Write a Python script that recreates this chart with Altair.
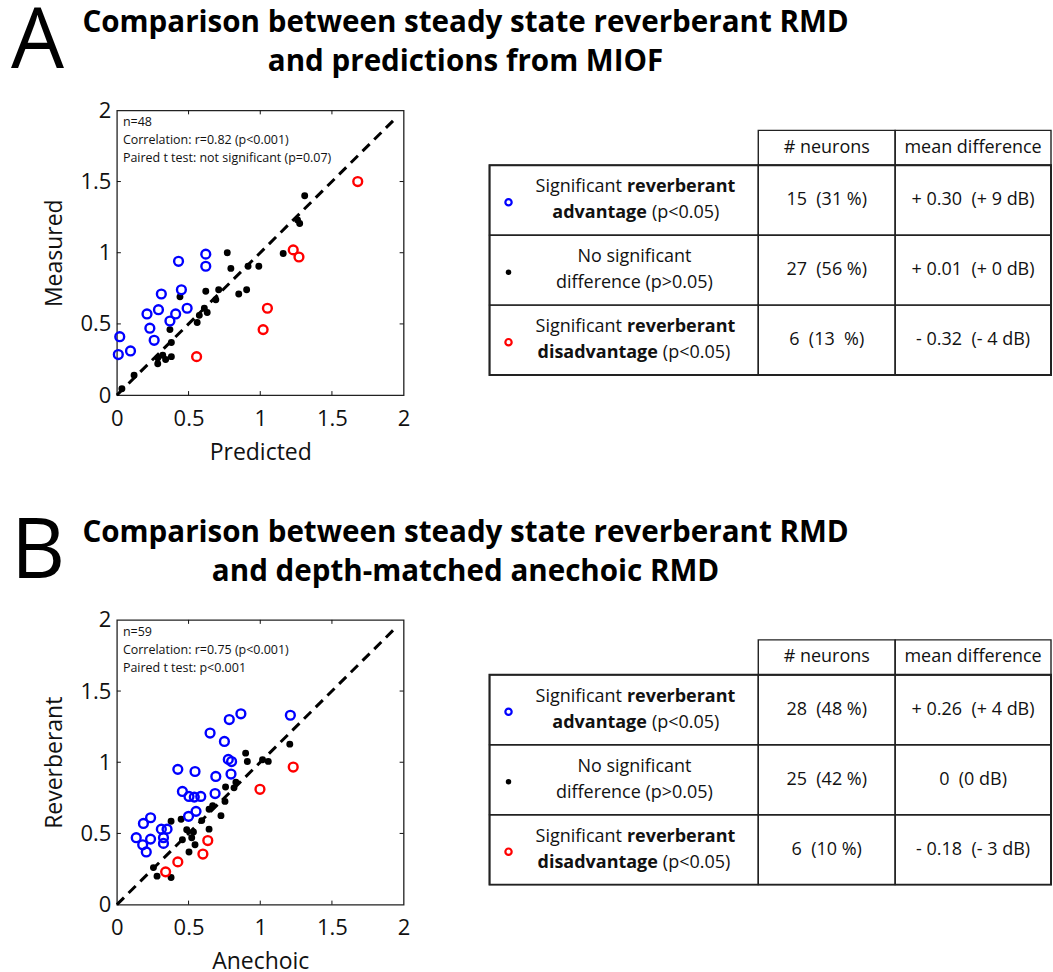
import altair as alt
import pandas as pd

FONT = "Open Sans"
INK = "#111111"
BLUE = "#0000ff"
RED = "#ff0000"

# ---------------- Panel A: steady-state reverberant RMD vs MIOF prediction ----------------
a_adv_x = [0.02, 0.01, 0.095, 0.21, 0.23, 0.26, 0.29, 0.31, 0.37, 0.41, 0.43, 0.45, 0.49, 0.62, 0.62]
a_adv_y = [0.41, 0.285, 0.31, 0.57, 0.47, 0.385, 0.60, 0.71, 0.52, 0.57, 0.94, 0.74, 0.61, 0.99, 0.905]
a_ns_x = [0.035, 0.12, 0.285, 0.32, 0.34, 0.38, 0.38, 0.37, 0.44, 0.56, 0.575, 0.61, 0.63, 0.62,
          0.69, 0.71, 0.77, 0.795, 0.85, 0.905, 0.915, 0.99, 1.16, 1.26, 1.275, 1.31, 0.285]
a_ns_y = [0.045, 0.14, 0.26, 0.28, 0.25, 0.27, 0.37, 0.46, 0.69, 0.51, 0.56, 0.61, 0.58, 0.73,
          0.67, 0.74, 1.0, 0.89, 0.71, 0.74, 0.905, 0.905, 0.995, 1.23, 1.205, 1.40, 0.22]
a_dis_x = [0.556, 1.02, 1.05, 1.23, 1.27, 1.68]
a_dis_y = [0.27, 0.46, 0.61, 1.02, 0.97, 1.50]

# ---------------- Panel B: steady-state reverberant RMD vs depth-matched anechoic RMD ----------------
b_adv_x = [0.135, 0.18, 0.205, 0.185, 0.235, 0.235, 0.31, 0.325, 0.325, 0.35, 0.425, 0.457, 0.50, 0.503,
           0.545, 0.552, 0.54, 0.585, 0.65, 0.685, 0.69, 0.75, 0.784, 0.777, 0.80, 0.796, 0.865, 1.21]
b_adv_y = [0.47, 0.42, 0.37, 0.57, 0.61, 0.46, 0.53, 0.47, 0.43, 0.53, 0.95, 0.795, 0.62, 0.76,
           0.935, 0.655, 0.755, 0.76, 1.205, 0.78, 0.90, 1.146, 1.30, 1.02, 1.005, 0.917, 1.34, 1.33]
b_ns_x = [0.255, 0.28, 0.378, 0.378, 0.448, 0.457, 0.487, 0.503, 0.522, 0.534, 0.545, 0.592, 0.643,
          0.643, 0.668, 0.726, 0.754, 0.758, 0.817, 0.83, 0.898, 0.91, 1.016, 1.056, 1.206]
b_ns_y = [0.26, 0.20, 0.19, 0.585, 0.60, 0.456, 0.526, 0.37, 0.47, 0.51, 0.42, 0.59, 0.53,
          0.67, 0.695, 0.625, 0.725, 0.826, 0.82, 0.86, 1.064, 1.005, 1.017, 1.006, 1.127]
b_dis_x = [0.34, 0.425, 0.60, 0.634, 0.998, 1.23]
b_dis_y = [0.23, 0.30, 0.355, 0.45, 0.81, 0.966]

# ---------------- text content ----------------
a_heading = "Comparison between steady state reverberant RMD\nand predictions from MIOF"
b_heading = "Comparison between steady state reverberant RMD\nand depth-matched anechoic RMD"
a_notes = "n=48\nCorrelation: r=0.82 (p<0.001)\nPaired t test: not significant (p=0.07)"
b_notes = "n=59\nCorrelation: r=0.75 (p<0.001)\nPaired t test: p<0.001"

table_header = ["# neurons", "mean difference"]
a_neurons = ["15\u00a0 (31 %)", "27\u00a0 (56 %)", "6\u00a0 (13\u00a0 %)"]
a_meandiff = ["+ 0.30\u00a0 (+ 9 dB)", "+ 0.01\u00a0 (+ 0 dB)", "- 0.32\u00a0 (- 4 dB)"]
b_neurons = ["28\u00a0 (48 %)", "25\u00a0 (42 %)", "6\u00a0 (10 %)"]
b_meandiff = ["+ 0.26\u00a0 (+ 4 dB)", "0\u00a0 (0 dB)", "- 0.18\u00a0 (- 3 dB)"]

# class descriptions: each line is a list of (text, weight) pieces
class_lines = [
    [[("Significant", "normal"), ("reverberant", "bold")],
     [("advantage", "bold"), ("(p<0.05)", "normal")]],
    [[("No significant", "normal")],
     [("difference (p>0.05)", "normal")]],
    [[("Significant", "normal"), ("reverberant", "bold")],
     [("disadvantage", "bold"), ("(p<0.05)", "normal")]],
]

# ---------------- layout ----------------
W, H = 287, 285                  # scatter plot area
PANEL_STEP = 510                 # vertical distance between the two panels
TICKS = [0.5, 1, 1.5]
DIAG = [0, 1.93]
TICK_LEN = 4

COL_W = [269, 137, 156]          # table columns
HEAD_H, ROW_H = 35, 70
TABLE_TOP = 20
TABLE_W = sum(COL_W)
LABEL_CX = 145                   # centre of the class description text
MARK_X = 19                      # legend symbol position inside the first column
LINE_DY = 13                     # half distance between the two lines of a description
SPLITS = [[135, 160], [None, None], [135, 171]]
GAP = 5


def scatter_panel(adv, ns, dis, x_title, y_title, notes, letter, heading):
    scale = alt.Scale(domain=[0, 2], nice=False, zero=False)
    x_axis = alt.Axis(values=[0, 0.5, 1, 1.5, 2], format="~g", ticks=False, domain=False, grid=False,
                      labelFont=FONT, labelFontSize=22, labelColor=INK, labelPadding=13,
                      labelFlush=False, labelOverlap=False,
                      title=x_title, titleFont=FONT, titleFontSize=23, titleFontWeight="normal",
                      titleColor=INK, titlePadding=12)
    y_axis = alt.Axis(values=[0, 0.5, 1, 1.5, 2], format="~g", ticks=False, domain=False, grid=False,
                      labelFont=FONT, labelFontSize=22, labelColor=INK, labelPadding=6,
                      labelFlush=False, labelOverlap=False,
                      title=y_title, titleFont=FONT, titleFontSize=23, titleFontWeight="normal",
                      titleColor=INK, titlePadding=14)

    def X():
        return alt.X("x:Q", scale=scale, axis=x_axis)

    def Y():
        return alt.Y("y:Q", scale=scale, axis=y_axis)

    diag = alt.Chart(pd.DataFrame({"x": DIAG, "y": DIAG})).mark_line(
        color="black", strokeWidth=3, strokeDash=[10, 6.5]).encode(x=X(), y=Y())
    dots = alt.Chart(pd.DataFrame({"x": ns[0], "y": ns[1]})).mark_circle(
        size=48, color="black", opacity=1).encode(x=X(), y=Y())
    adv_pts = alt.Chart(pd.DataFrame({"x": adv[0], "y": adv[1]})).mark_point(
        shape="circle", filled=False, size=78, strokeWidth=2.4, color=BLUE, opacity=1).encode(x=X(), y=Y())
    dis_pts = alt.Chart(pd.DataFrame({"x": dis[0], "y": dis[1]})).mark_point(
        shape="circle", filled=False, size=78, strokeWidth=2.4, color=RED, opacity=1).encode(x=X(), y=Y())

    tx = pd.DataFrame({"x": TICKS})
    ty = pd.DataFrame({"y": TICKS})
    rule = dict(color=INK, strokeWidth=1)
    t_bottom = alt.Chart(tx).mark_rule(**rule).encode(x=X(), y=alt.value(H), y2=alt.value(H - TICK_LEN))
    t_top = alt.Chart(tx).mark_rule(**rule).encode(x=X(), y=alt.value(0), y2=alt.value(TICK_LEN))
    t_left = alt.Chart(ty).mark_rule(**rule).encode(y=Y(), x=alt.value(0), x2=alt.value(TICK_LEN))
    t_right = alt.Chart(ty).mark_rule(**rule).encode(y=Y(), x=alt.value(W), x2=alt.value(W - TICK_LEN))

    note = alt.Chart(pd.DataFrame({"t": [notes]})).mark_text(
        align="left", baseline="top", font=FONT, fontSize=12.5, lineHeight=18, lineBreak="\n",
        color=INK).encode(x=alt.value(6), y=alt.value(6), text="t:N")
    big = alt.Chart(pd.DataFrame({"t": [letter]})).mark_text(
        align="left", baseline="alphabetic", font=FONT, fontSize=84, color="black").encode(
        x=alt.value(-106), y=alt.value(-42), text="t:N")
    head = alt.Chart(pd.DataFrame({"t": [heading]})).mark_text(
        align="center", baseline="alphabetic", font=FONT, fontSize=29.6, fontWeight="bold",
        lineHeight=39, lineBreak="\n", color="black").encode(
        x=alt.value(349), y=alt.value(-78), text="t:N")

    return alt.layer(diag, dots, adv_pts, dis_pts, t_bottom, t_top, t_left, t_right,
                     note, big, head).properties(width=W, height=H)


def table_panel(neurons, meandiff):
    xs = alt.Scale(domain=[0, TABLE_W], nice=False, zero=False)
    ys = alt.Scale(domain=[0, H], nice=False, zero=False, reverse=True)
    col_edges = [0, COL_W[0], COL_W[0] + COL_W[1], TABLE_W]
    row_edges = [TABLE_TOP, TABLE_TOP + HEAD_H] + [TABLE_TOP + HEAD_H + ROW_H * (i + 1) for i in range(3)]

    cells = []
    for c in (1, 2):
        cells.append({"x0": col_edges[c], "x1": col_edges[c + 1], "y0": row_edges[0], "y1": row_edges[1]})
    for r in range(3):
        for c in range(3):
            cells.append({"x0": col_edges[c], "x1": col_edges[c + 1],
                          "y0": row_edges[r + 1], "y1": row_edges[r + 2]})
    cell_df = pd.DataFrame(cells)
    outer_df = pd.DataFrame([{"x0": 0, "x1": TABLE_W, "y0": row_edges[1], "y1": row_edges[4]}])

    def rect_enc():
        return dict(x=alt.X("x0:Q", scale=xs, axis=None), x2="x1:Q",
                    y=alt.Y("y0:Q", scale=ys, axis=None), y2="y1:Q")

    grid = alt.Chart(cell_df).mark_rect(fillOpacity=0, stroke="#222222", strokeWidth=1.4).encode(**rect_enc())
    outer = alt.Chart(outer_df).mark_rect(fillOpacity=0, stroke="#222222", strokeWidth=2).encode(**rect_enc())

    centres = [(row_edges[r + 1] + row_edges[r + 2]) / 2 for r in range(3)]
    head_cy = (row_edges[0] + row_edges[1]) / 2

    # text pieces: (x, y, text, weight, align)
    pieces = []
    for c, t in zip((1, 2), table_header):
        pieces.append(((col_edges[c] + col_edges[c + 1]) / 2, head_cy, t, "normal", "center"))
    for r in range(3):
        pieces.append(((col_edges[1] + col_edges[2]) / 2, centres[r], neurons[r], "normal", "center"))
        pieces.append(((col_edges[2] + col_edges[3]) / 2, centres[r], meandiff[r], "normal", "center"))
        for li, line in enumerate(class_lines[r]):
            y = centres[r] + (-LINE_DY if li == 0 else LINE_DY)
            if len(line) == 1:
                pieces.append((LABEL_CX, y, line[0][0], line[0][1], "center"))
            else:
                s = SPLITS[r][li]
                pieces.append((s - GAP / 2, y, line[0][0], line[0][1], "right"))
                pieces.append((s + GAP / 2, y, line[1][0], line[1][1], "left"))
    pdf = pd.DataFrame(pieces, columns=["x", "y", "t", "w", "a"])

    text_layers = []
    for (w, a), sub in pdf.groupby(["w", "a"]):
        text_layers.append(
            alt.Chart(sub).mark_text(align=a, baseline="middle", font=FONT, fontSize=18,
                                     fontWeight=w, color=INK).encode(
                x=alt.X("x:Q", scale=xs, axis=None), y=alt.Y("y:Q", scale=ys, axis=None), text="t:N"))

    def marker(r):
        return pd.DataFrame({"x": [MARK_X], "y": [centres[r] + 2]})

    m_enc = dict(x=alt.X("x:Q", scale=xs, axis=None), y=alt.Y("y:Q", scale=ys, axis=None))
    m_adv = alt.Chart(marker(0)).mark_point(shape="circle", filled=False, size=40, strokeWidth=2.2,
                                            color=BLUE, opacity=1).encode(**m_enc)
    m_ns = alt.Chart(marker(1)).mark_circle(size=30, color="black", opacity=1).encode(**m_enc)
    m_dis = alt.Chart(marker(2)).mark_point(shape="circle", filled=False, size=40, strokeWidth=2.2,
                                            color=RED, opacity=1).encode(**m_enc)

    return alt.layer(grid, outer, m_adv, m_ns, m_dis, *text_layers).properties(
        width=TABLE_W, height=H, view=alt.ViewBackground(stroke="transparent"))


panel_a = alt.hconcat(
    scatter_panel((a_adv_x, a_adv_y), (a_ns_x, a_ns_y), (a_dis_x, a_dis_y),
                  "Predicted", "Measured", a_notes, "A", a_heading),
    table_panel(a_neurons, a_meandiff),
    spacing=86, bounds="flush")

panel_b = alt.hconcat(
    scatter_panel((b_adv_x, b_adv_y), (b_ns_x, b_ns_y), (b_dis_x, b_dis_y),
                  "Anechoic", "Reverberant", b_notes, "B", b_heading),
    table_panel(b_neurons, b_meandiff),
    spacing=86, bounds="flush")

# flush bounds give the nested rows no height of their own, so the spacing is the full panel step
chart = alt.vconcat(panel_a, panel_b, spacing=PANEL_STEP, bounds="flush").properties(
    padding={"left": 10, "top": 0, "right": 0, "bottom": 4},
    background="white",
).configure_view(stroke="#222222", strokeWidth=1.3)

chart.save("out.html", embed_options={"renderer": "svg", "actions": False})
